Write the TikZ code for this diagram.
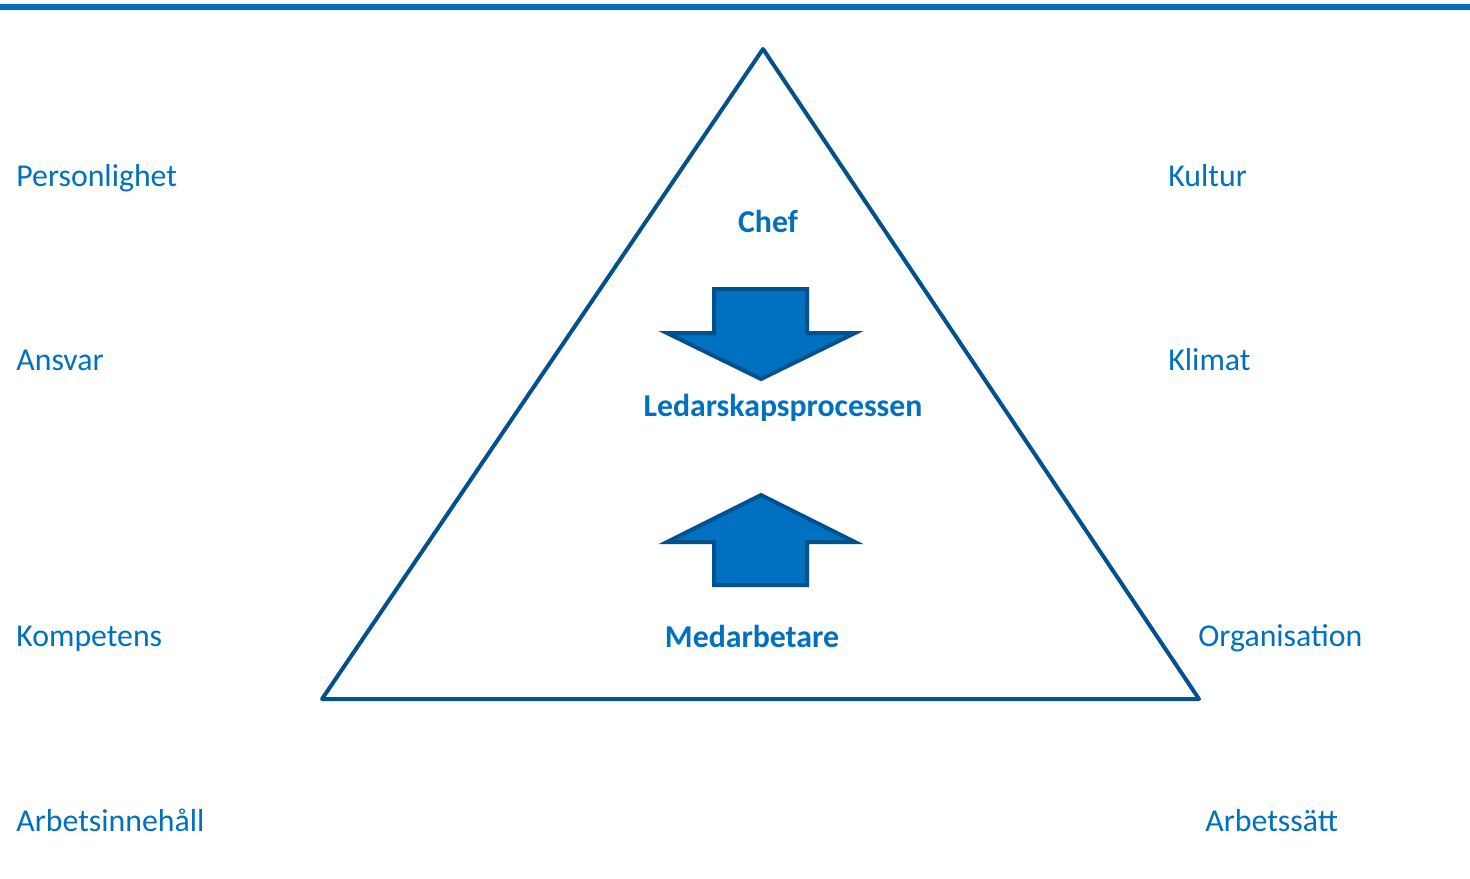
\documentclass[tikz,border=0pt]{standalone}
\usepackage{fontspec}
\setmainfont{Carlito}
\definecolor{txtblue}{HTML}{0070C0}
\definecolor{darkblue}{HTML}{00518E}
\begin{document}
\begin{tikzpicture}[x=0.5pt,y=-0.5pt,
  lbl/.style={text=txtblue,font=\fontsize{15.9}{18}\selectfont,inner sep=0pt},
  blbl/.style={text=txtblue,font=\fontsize{15.9}{18}\selectfont\bfseries,inner sep=0pt},
  tri/.style={draw=darkblue,line width=2pt,line join=round,line cap=round},
  arr/.style={draw=darkblue,fill=txtblue,line width=2pt,line join=miter}]
\useasboundingbox (0,0) rectangle (1470,878);
\fill[txtblue] (0,4) rectangle (1470,10);
% triangle
\coordinate (apex) at (763,49);
\coordinate (bl) at (322,699);
\coordinate (br) at (1199,699);
\draw[tri] (apex) -- (bl) -- (br) -- cycle;
% down arrow
\draw[arr] (714,289) -- (807,289) -- (807,333) -- (855,333) -- (761,379) -- (667,333) -- (714,333) -- cycle;
% up arrow
\draw[arr] (761,495) -- (855,542) -- (807,542) -- (807,585) -- (714,585) -- (714,542) -- (667,542) -- cycle;
% center labels
\node[blbl,anchor=base] (chef) at (768,232) {Chef};
\node[blbl,anchor=base] (led) at (783,416) {Ledarskapsprocessen};
\node[blbl,anchor=base] (med) at (752,647) {Medarbetare};
% left labels
\node[lbl,anchor=base west] (pers) at (16,186) {Personlighet};
\node[lbl,anchor=base west] (ansv) at (16,370) {Ansvar};
\node[lbl,anchor=base west] (komp) at (16,646) {Kompetens};
\node[lbl,anchor=base west] (arbi) at (16,831) {Arbetsinnehåll};
% right labels
\node[lbl,anchor=base west] (kult) at (1168,186) {Kultur};
\node[lbl,anchor=base west] (klim) at (1168,370) {Klimat};
\node[lbl,anchor=base west] (org) at (1198,646) {Organisation};
\node[lbl,anchor=base west] (arbs) at (1205,831) {Arbetssätt};
\end{tikzpicture}
\end{document}
